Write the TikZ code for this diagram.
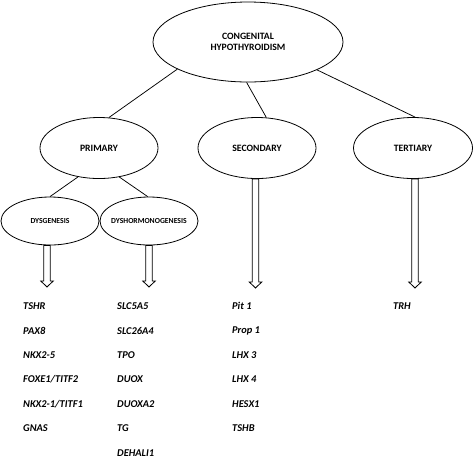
\documentclass[tikz,border=0pt]{standalone}
\usepackage{fontspec}
\setmainfont{Carlito}
\usetikzlibrary{shapes.geometric,calc}
\tikzset{
  ell/.style={draw, ellipse, line width=0.8pt, inner sep=0pt},
  lbl/.style={font=\bfseries\fontsize{9.7}{11.2}\selectfont, align=center},
  slbl/.style={font=\bfseries\fontsize{7.7}{9}\selectfont},
  gene/.style={font=\bfseries\itshape\fontsize{10.4}{12}\selectfont, anchor=west, inner sep=0pt},
  conn/.style={line width=0.75pt},
  harr/.style={line width=0.85pt, fill=white, line join=miter},
}
\newcommand{\hollowarrow}[2]{%
  \draw[harr] let \p1=#1, \p2=#2 in
    (\x1-3.2pt,\y1) -- (\x1+3.2pt,\y1) -- (\x1+3.2pt,\y2+6pt) -- (\x1+6.2pt,\y2+6pt)
    -- (\x1,\y2) -- (\x1-6.2pt,\y2+6pt) -- (\x1-3.2pt,\y2+6pt) -- cycle;}
\begin{document}
\begin{tikzpicture}[x=1pt,y=-1pt]
\useasboundingbox (0,0) rectangle (473,459);
% ellipses
\node[ell, minimum width=190, minimum height=80, label={[lbl]center:CONGENITAL\\HYPOTHYROIDISM}] (ch) at (248,42) {};
\node[ell, minimum width=118, minimum height=61, label={[lbl]center:PRIMARY}] (pri) at (99,148) {};
\node[ell, minimum width=118, minimum height=61, label={[lbl]center:SECONDARY}] (sec) at (257,148) {};
\node[ell, minimum width=119, minimum height=61, label={[lbl]center:TERTIARY}] (ter) at (413,148) {};
\node[ell, minimum width=98, minimum height=48, label={[slbl]center:DYSGENESIS}] (dys) at (50,221) {};
\node[ell, minimum width=98, minimum height=48, label={[slbl]center:DYSHORMONOGENESIS}] (dyh) at (149,221) {};
% connectors
\draw[conn] (ch.201) -- (pri.72);
\draw[conn] (ch.268) -- (sec.73);
\draw[conn] (ch.338) -- (ter.86);
\draw[conn] (pri.234) -- (dys.90);
\draw[conn] (pri.305) -- (dyh.93);
% gene lists
\foreach \t [count=\i] in {TSHR,PAX8,NKX2-5,FOXE1/TITF2,NKX2-1/TITF1,GNAS}
  \node[gene] (ga\i) at (23,{306+24.5*(\i-1)}) {\t};
\foreach \t [count=\i] in {SLC5A5,SLC26A4,TPO,DUOX,DUOXA2,TG,DEHALI1}
  \node[gene] (gb\i) at (117,{306+24.5*(\i-1)}) {\t};
\foreach \t [count=\i] in {Pit 1,Prop 1,LHX 3,LHX 4,HESX1,TSHB}
  \node[gene] (gc\i) at (232,{306+24.5*(\i-1)}) {\t};
\node[gene] (gd1) at (393,306) {TRH};
% arrow end points
\coordinate (ea) at (47,287);
\coordinate (eb) at (149,287);
\coordinate (ec) at (255.5,288);
\coordinate (ed) at (415,288);
\hollowarrow{($(dys.south-|ea)$)}{(ea)}
\hollowarrow{($(dyh.south-|eb)$)}{(eb)}
\hollowarrow{($(sec.south-|ec)$)}{(ec)}
\hollowarrow{($(ter.south-|ed)$)}{(ed)}
\end{tikzpicture}
\end{document}
